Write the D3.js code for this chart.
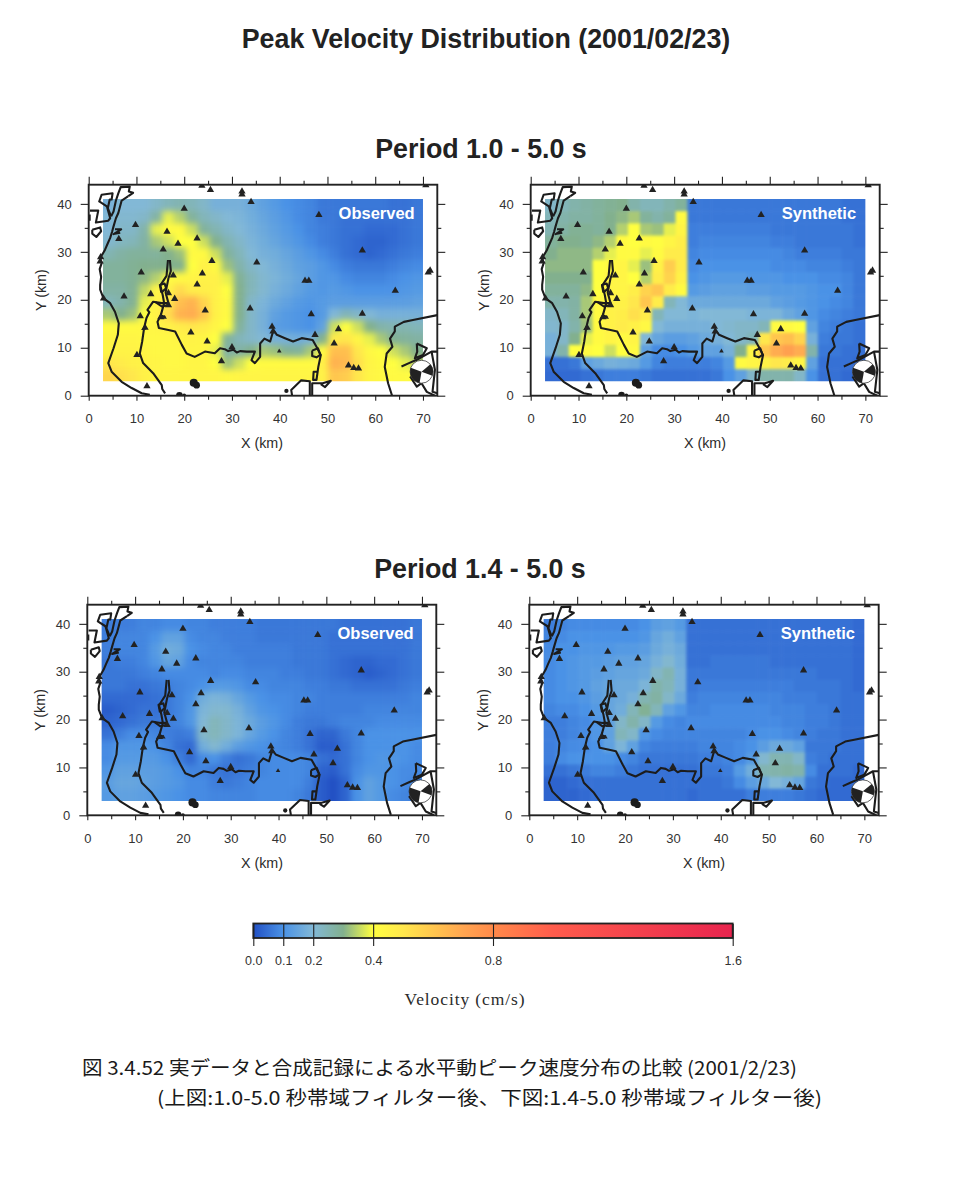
<!DOCTYPE html>
<html><head><meta charset="utf-8">
<style>
html,body{margin:0;padding:0;background:#fff}
svg{display:block}
text{font-family:"Liberation Sans",Arial,sans-serif;fill:#2b2b2b}
.tick text{font-size:13px;fill:#333;font-family:"Liberation Sans",Arial,sans-serif}
.tick line{stroke:#222;stroke-width:1.1}
</style>
<script src="https://cdn.jsdelivr.net/npm/d3@7"></script>
</head><body><svg id="c" width="962" height="1179"></svg>
<script>
// velocity cells (x 0.01 cm/s), rows north to south, columns west to east
const observed10 = [
[18,20,20,20,22,24,25,24,22,18,18,18,16,14,12,10,9,8,6,6,6,6,6,6,5,5,6],
[20,21,21,22,27,38,34,28,24,22,20,19,17,15,13,11,9,8,6,6,5,5,5,5,5,5,6],
[20,22,22,26,38,42,42,36,28,25,22,20,18,16,14,12,10,8,7,6,5,5,4,4,4,5,6],
[21,23,24,27,33,36,40,40,36,30,25,22,19,17,15,13,11,9,7,6,5,4,3,3,4,5,6],
[25,27,28,28,28,30,32,42,42,36,28,24,20,18,17,15,13,11,9,7,5,4,3,4,5,6,7],
[28,28,29,30,30,30,30,40,46,42,32,26,22,20,18,16,14,13,11,9,7,6,6,6,7,8,9],
[28,28,29,31,34,42,43,44,46,46,38,29,24,21,19,17,15,13,11,11,9,8,8,8,9,10,11],
[27,27,29,35,44,46,54,48,47,46,40,30,24,21,18,16,14,12,11,12,11,10,10,10,10,11,12],
[24,26,29,38,44,50,62,66,56,46,42,30,22,19,16,14,12,11,12,13,13,13,13,13,13,13,14],
[33,30,32,40,45,54,66,68,60,46,42,30,22,18,14,12,11,10,12,20,24,22,20,18,18,18,18],
[42,42,42,43,44,46,48,50,48,44,40,28,22,18,13,12,11,10,14,36,40,36,30,26,25,25,24],
[44,44,44,43,43,43,44,45,44,40,28,24,22,20,18,18,17,18,30,48,50,44,38,33,29,28,27],
[44,45,45,44,43,43,43,44,44,38,27,27,30,33,32,29,28,33,42,62,62,50,43,40,36,33,30],
[50,48,46,45,44,43,43,44,44,40,32,36,40,42,42,42,42,42,46,66,64,52,44,42,40,38,34],
[55,52,50,46,44,44,44,44,44,44,43,44,44,44,44,44,44,44,46,60,58,50,44,43,42,42,40]];
const synthetic10 = [
[22,24,26,27,28,29,30,26,24,24,26,28,6,6,6,6,6,6,6,6,6,6,6,6,6,5,5],
[24,26,27,27,28,30,31,33,28,26,28,42,6,6,6,6,6,6,6,6,6,6,6,6,6,5,5],
[25,27,29,29,28,30,34,40,33,32,38,44,7,7,7,7,7,7,7,6,6,6,6,6,6,6,5],
[28,30,30,29,31,34,42,40,42,41,44,47,7,8,8,8,8,8,8,7,7,6,6,6,6,6,5],
[30,31,31,31,34,38,42,42,38,42,48,48,8,9,9,9,9,9,9,9,8,7,7,7,7,6,6],
[31,31,31,31,40,42,44,38,32,46,58,48,9,10,10,10,10,10,10,9,9,9,8,8,8,7,6],
[30,30,30,30,40,44,44,40,34,48,56,46,10,11,12,12,12,11,11,11,10,10,10,9,9,8,6],
[28,28,28,31,40,44,44,47,56,60,48,42,12,13,14,14,14,13,13,12,12,12,11,10,10,8,6],
[26,26,27,33,42,46,46,50,60,48,24,20,16,16,16,16,16,16,16,14,13,12,11,10,9,8,6],
[22,24,27,33,42,46,47,52,48,24,20,20,19,20,20,20,20,19,19,19,16,14,11,9,8,7,6],
[21,22,26,32,42,46,48,46,43,20,18,18,18,18,20,21,22,22,24,42,42,40,14,8,7,6,5],
[18,22,30,38,42,44,42,44,20,15,13,13,14,16,18,20,22,24,50,60,62,56,18,7,6,6,5],
[18,26,40,42,40,36,40,42,14,9,9,10,12,14,14,18,30,44,60,68,72,68,26,6,6,5,5],
[5,5,6,14,16,18,17,16,12,8,7,7,7,7,8,12,42,44,46,50,48,44,14,5,5,5,4],
[4,4,4,5,6,7,7,7,6,5,5,5,5,5,6,10,14,22,26,26,26,22,10,5,5,4,4]];
const observed14 = [
[7,7,7,8,8,9,9,8,8,7,7,7,7,6,6,6,6,6,6,6,5,5,5,5,5,5,6],
[7,8,8,8,10,14,14,9,8,8,7,7,7,6,6,6,6,6,6,5,5,5,5,5,5,5,6],
[7,8,8,8,12,17,16,10,9,8,8,7,7,7,7,7,6,6,6,5,5,5,5,5,5,5,6],
[6,7,7,8,11,15,14,9,8,8,8,8,7,7,7,7,6,6,6,5,4,3,3,4,4,5,6],
[6,6,6,7,8,9,9,9,9,8,9,9,8,8,8,7,7,6,6,5,4,3,2,3,4,5,6],
[6,6,5,5,6,7,8,9,10,12,12,11,9,9,8,8,8,7,7,6,6,5,5,5,5,6,7],
[4,4,4,4,5,6,8,10,17,19,18,15,12,10,9,9,8,8,7,7,7,7,7,7,7,7,8],
[2,3,4,5,5,6,8,11,19,21,21,18,14,11,10,9,8,7,7,7,7,7,8,8,8,8,8],
[3,4,5,6,6,7,8,11,20,24,22,19,16,13,11,9,7,6,6,7,8,8,8,9,9,9,9],
[5,7,9,9,8,7,6,7,22,24,22,19,15,12,10,8,7,5,3,3,6,8,10,10,10,10,10],
[9,11,11,11,10,8,5,4,17,21,17,13,11,10,9,8,7,5,2,2,5,8,10,10,10,10,9],
[9,12,12,12,12,10,7,4,9,10,7,5,6,8,9,9,9,8,5,4,5,8,10,11,11,10,9],
[11,14,14,13,13,12,10,8,8,6,5,6,7,8,9,9,9,8,3,2,5,9,11,11,10,9,9],
[13,15,15,14,13,12,11,9,9,7,6,7,8,9,9,9,9,7,2,0,3,10,14,12,10,9,8],
[12,14,14,13,12,11,10,9,9,8,8,8,8,9,9,9,8,6,2,0,3,10,14,12,9,8,7]];
const synthetic14 = [
[7,8,9,9,9,9,9,9,10,13,14,12,5,5,5,5,5,5,5,5,5,5,5,5,5,5,4],
[8,9,10,10,10,10,10,10,11,15,17,14,5,5,5,5,5,5,5,5,5,5,5,5,5,5,4],
[9,10,10,11,11,11,12,12,13,16,18,16,5,5,5,5,5,5,5,5,5,5,5,5,5,5,4],
[9,10,11,12,12,13,14,14,15,18,21,17,5,5,6,6,6,6,6,5,5,5,5,5,5,5,4],
[9,10,11,12,13,14,15,15,16,22,25,18,6,6,6,6,6,6,6,6,6,6,6,5,5,5,4],
[9,10,11,12,14,15,16,16,19,26,24,18,6,7,7,7,7,7,7,7,7,6,6,6,6,5,4],
[9,10,10,11,13,15,16,18,25,27,22,16,7,8,8,8,8,8,8,8,7,7,7,6,6,5,5],
[8,9,9,10,12,15,17,24,29,24,14,11,8,8,9,9,9,9,9,8,8,8,7,7,6,5,5],
[7,7,8,9,11,14,22,26,22,12,9,8,9,9,9,9,9,9,9,9,8,8,7,7,6,5,5],
[7,7,8,9,11,14,24,22,11,9,8,8,8,8,8,8,8,9,10,10,9,8,7,6,6,5,5],
[7,8,9,9,10,14,19,14,8,7,7,7,7,8,8,8,9,10,13,16,16,14,6,6,6,5,5],
[7,9,10,10,10,10,9,8,6,6,6,6,6,7,7,8,9,12,21,25,25,22,7,6,5,5,5],
[5,5,6,7,8,8,7,6,5,5,5,5,5,6,6,7,12,17,25,26,27,26,9,5,5,5,4],
[3,3,4,5,5,5,5,5,5,5,5,5,5,5,5,6,9,13,16,20,18,15,6,5,4,4,4],
[3,3,3,4,5,5,5,5,5,5,5,5,4,5,5,5,5,7,7,7,7,6,5,4,4,4,3]];

const colorValues = [0,0.1,0.2,0.3,0.4,0.5,0.7,0.8,1.0,1.6];
const colorStops = ["#2250c4","#4a92e6","#82b8d6","#82b08e","#ffff40","#ffe74c","#ffa550","#ff8a4a","#ff5c4c","#e8244e"];
const legendTicks = [0,0.1,0.2,0.4,0.8,1.6];

// stations [x km, y km]
const stations = [[23.7,43.8],[25.5,42.9],[32.1,42.6],[32.1,42],[34,40.4],[20,39],[48.2,37.7],[9.8,35.6],[16.4,34.2],[22.7,32.8],[18.7,31.7],[6.3,32.7],[15.6,30.5],[57.3,30.3],[25.8,28.1],[35.2,27.8],[11,25.7],[23.8,25.5],[17.7,25.1],[45.3,24],[46.1,24],[22.7,23.2],[13,21.2],[64.2,21.9],[7.4,20.7],[18,20.2],[3.1,20.3],[33.8,18.2],[24.4,17.8],[46.6,17],[57.3,17.1],[10.8,16.6],[15.1,16.4],[38.4,14.4],[38.6,13.4],[11.8,14.2],[52.3,13.9],[21.4,13.2],[47.4,12.7],[24.8,11.3],[51.4,10.9],[30,10.1],[10.1,8.5],[27.8,7.2],[54.4,6.3],[55.5,5.8],[56.5,5.7],[12.2,2],[71.5,26.1],[71.1,25.7],[70.6,43.9],[2.4,28],[2.5,28.9],[16.7,21.4],[16.7,18.9]];
const stationsSmall = [[39.9,9.3],[15.9,16.3],[11.5,14]];

// coastlines [x km, y km]
const coastWest = [[8.3,41.6],[6.9,40.7],[6.2,38.1],[5.7,37],[5.2,35.3],[4.9,34.2],[4.5,32.9],[4,31.8],[3.4,30.4],[2.4,28.7],[2.7,27.6],[2.3,26.4],[2.6,24.8],[2.4,23.1],[2.4,22.1],[3.1,20.3],[4.5,19.3],[5.5,17.5],[6.3,15.1],[6.1,12.7],[5.2,9.9],[4.1,6.8],[4.8,5],[6.9,2.9],[9,1.6],[11.1,.5],[12.8,.2]];
const coastRiverB = [[17,28.3],[17.2,26],[16.7,24.5],[16.4,23],[16.1,21.5],[16.7,19.3],[15.3,19.3],[13.5,19.6],[12.3,17.9],[12.7,17.4],[12.1,16.2],[11.6,14.1],[11.2,11.3],[10.7,8.8],[11.4,6.8],[13.5,4.7],[15.3,2.2],[15.4,1.4],[16,.5]];
const coastBay = [[16.6,28.3],[16.3,25],[15,23],[15.5,21],[15.8,19.3],[15.1,16.8],[14.4,15.4],[14.7,14.1],[16.7,13.7],[18.1,13.4],[19.5,10.6],[20.5,8.8],[22.2,8.1],[24.35,9.2],[26.4,8.85],[27.5,9.9],[28.5,9.7],[29.2,9.3],[30.3,9.6],[31,9],[31.7,9.3],[33.1,9.2],[34.8,9.2],[34.1,7.4],[34.8,6.8],[35.9,8.1],[35.9,10.9],[36.8,11.9],[38,11.3],[38.7,13.7],[39.4,12.7],[41.1,12],[42.8,11.3],[44.6,12],[46.9,11.6],[47.7,10.2],[48.6,8.5],[48.1,6.1],[47.7,3.3],[47,3.3],[47.1,5],[48,5]];
const coastEast = [[73,16.8],[67.9,15.8],[66,15.4],[64.1,14.4],[64.1,13.4],[63.1,11.9],[63.6,10.2],[62.4,8.8],[62,6],[62.7,2.6],[63.5,.1]];
const coastOther = [
 [[42.6,0],[42.4,1.2],[44.5,3.2],[46.3,3],[46.3,0]],
 [[46.8,0],[46.8,2.6],[49,2.6],[50.7,3.1],[49.5,1.8],[48.6,2.4]],
 [[.27,38.6],[2,38.6],[1.5,36.1],[4.1,36.5],[4.5,37],[3.8,39.5],[2.2,40.5],[2.7,41.9],[5,42.2],[4.8,40.9],[4.4,40.9],[4,39.1],[4.7,37.4]],
 [[4.7,37.4],[5.2,38.4],[5.7,40.7],[6.2,42.2],[6.7,43.5],[8.6,43.6],[8.4,42.6],[9.3,42.3],[8.3,41.6]],
 [[.2,37.8],[.2,36.5]],
 [[.75,34.6],[2.4,35.1],[2.6,34.3],[1.6,33.1],[.75,33.8],[.75,34.6]],
 [[5.5,34.7],[6.8,34.7],[5.2,33.7],[6.6,34]],
 [[46.8,9.4],[48,9.9],[48.5,8.5],[47.7,8],[46.8,8.3],[46.8,9.4]],
 [[68.7,10.9],[70.8,9.9],[70,8.5],[68.3,7.8],[68.8,9.2],[68.7,10.9]],
 [[65.5,6.1],[67.3,6.9],[68.7,7.5],[71.8,9.2],[73,9.2]],
 [[71.8,9.2],[72.5,5.4],[72,.8],[73,.5]],
 [[67.3,4],[68.7,1.9],[69.7,2.6],[70.8,.8],[72.5,0]],
 [[15.2,21.5],[14.9,23.1],[15.9,23.4],[16.2,22.4],[15.2,21.5]],
 [[14,19.5],[15.3,18.6],[16.7,18.9]],
 [[15,16.8],[16,16.4]]
];
const islands = [[22,2.7,.85],[22.6,2.2,.7],[41.4,1,.45],[19,.1,.7],[20,.05,.4]];

const panels = [
 {grid:observed10,label:"Observed",x0:88.7,x1:437.3,top:184.7,bottom:395.7,blur:3.4,xl:262,yl:448,yx:46},
 {grid:synthetic10,label:"Synthetic",x0:530.7,x1:879.7,top:184.7,bottom:395.7,blur:1.4,xl:705,yl:448,yx:488.5},
 {grid:observed14,label:"Observed",x0:87.3,x1:436.3,top:604.7,bottom:815.3,blur:3.4,xl:262,yl:868,yx:45},
 {grid:synthetic14,label:"Synthetic",x0:529.3,x1:878.7,top:604.7,bottom:815.3,blur:1.8,xl:704,yl:868,yx:487.5}
];

const svg = d3.select("#c");
const defs = svg.append("defs");
const color = d3.scaleLinear().domain(colorValues).range(colorStops).clamp(true);
const fmtLine = (xs,ys)=>d3.line().x(d=>xs(d[0])).y(d=>ys(d[1]));

panels.forEach((p,pi)=>{
  const xs = d3.scaleLinear().domain([0,73]).range([p.x0,p.x1]);
  const ys = d3.scaleLinear().domain([0,44]).range([p.bottom,p.top]);
  const cols = d3.scaleBand().domain(d3.range(27)).range([xs(3),xs(70)]);
  const rows = d3.scaleBand().domain(d3.range(15)).range([ys(41),ys(3)]);
  const g = svg.append("g");

  defs.append("clipPath").attr("id","h"+pi).append("rect")
    .attr("x",xs(3)).attr("y",ys(41)).attr("width",xs(70)-xs(3)).attr("height",ys(3)-ys(41));
  defs.append("clipPath").attr("id","f"+pi).append("rect")
    .attr("x",xs(0)).attr("y",ys(44)).attr("width",xs(73)-xs(0)).attr("height",ys(0)-ys(44));
  const fl = defs.append("filter").attr("id","b"+pi).attr("filterUnits","userSpaceOnUse")
    .attr("x",xs(0)-20).attr("y",ys(44)-20).attr("width",xs(73)-xs(0)+40).attr("height",ys(0)-ys(44)+40)
    .attr("color-interpolation-filters","sRGB");
  fl.append("feGaussianBlur").attr("stdDeviation",p.blur);

  const cells = p.grid.flatMap((r,j)=>r.map((v,i)=>({v,i,j})));
  g.append("g").attr("clip-path",`url(#h${pi})`).append("g").attr("filter",`url(#b${pi})`)
   .selectAll("rect").data(cells).join("rect")
    .attr("x",d=>d.i===0?xs(0):cols(d.i))
    .attr("y",d=>d.j===0?ys(44):rows(d.j))
    .attr("width",d=>(d.i===26?xs(73):cols(d.i)+cols.bandwidth()+.5)-(d.i===0?xs(0):cols(d.i)))
    .attr("height",d=>(d.j===14?ys(0):rows(d.j)+rows.bandwidth()+.5)-(d.j===0?ys(44):rows(d.j)))
    .attr("fill",d=>color(d.v/100));

  const over = g.append("g").attr("clip-path",`url(#f${pi})`);
  const line = fmtLine(xs,ys);
  over.selectAll("path.coast").data([coastWest,coastRiverB,coastBay,coastEast,...coastOther]).join("path")
    .attr("class","coast").attr("d",line).attr("fill","none").attr("stroke","#1c1c1c")
    .attr("stroke-width",2.1).attr("stroke-linejoin","round");
  over.selectAll("circle").data(islands).join("circle")
    .attr("cx",d=>xs(d[0])).attr("cy",d=>ys(d[1])).attr("r",d=>xs(d[2])-xs(0)).attr("fill","#1c1c1c");
  const tri = d3.symbol().type(d3.symbolTriangle);
  over.selectAll("path.st").data(stations).join("path").attr("class","st")
    .attr("transform",d=>`translate(${xs(d[0])},${ys(d[1])})`).attr("d",tri.size(23)()).attr("fill","#222");
  over.selectAll("path.ss").data(stationsSmall).join("path").attr("class","ss")
    .attr("transform",d=>`translate(${xs(d[0])},${ys(d[1])})`).attr("d",tri.size(9)()).attr("fill","#222");

  // focal mechanism
  const fm = over.append("g").attr("transform",`translate(${xs(69.7)},${ys(5)})`);
  const rk = xs(2.4)-xs(0);
  fm.append("circle").attr("r",rk).attr("fill","#fff").attr("stroke","#222").attr("stroke-width",.7);
  const arc = d3.arc().innerRadius(0).outerRadius(rk);
  [[190,290],[50,110]].forEach(a=>fm.append("path")
     .attr("d",arc({startAngle:a[0]*Math.PI/180,endAngle:a[1]*Math.PI/180})).attr("fill","#222"));

  g.append("rect").attr("x",xs(0)).attr("y",ys(44)).attr("width",xs(73)-xs(0)).attr("height",ys(0)-ys(44))
    .attr("fill","none").attr("stroke","#222").attr("stroke-width",1.9);

  const majX=d3.range(0,71,10), minX=d3.range(5,71,10), majY=d3.range(0,41,10), minY=d3.range(5,41,10);
  const ax=(a,sel,vals,size,labels,pad)=>{
    const gg=g.append("g").attr("transform",sel).call(a.tickValues(vals).tickSize(size).tickPadding(pad||3).tickFormat(labels?d3.format("d"):""));
    gg.select(".domain").remove();
  };
  ax(d3.axisBottom(xs),`translate(0,${ys(0)})`,majX,5,true,13);
  ax(d3.axisBottom(xs),`translate(0,${ys(0)})`,minX,4,false);
  ax(d3.axisTop(xs),`translate(0,${ys(44)})`,majX,8,false);
  ax(d3.axisTop(xs),`translate(0,${ys(44)})`,minX,4,false);
  ax(d3.axisLeft(ys),`translate(${xs(0)},0)`,majY,8,true,9);
  ax(d3.axisLeft(ys),`translate(${xs(0)},0)`,minY,4,false);
  ax(d3.axisRight(ys),`translate(${xs(73)},0)`,majY,8,false);
  ax(d3.axisRight(ys),`translate(${xs(73)},0)`,minY,4,false);

  g.append("text").attr("x",p.xl).attr("y",p.yl).attr("text-anchor","middle").attr("font-size",14.3).text("X (km)");
  g.append("text").attr("transform",`translate(${p.yx},${(p.top+p.bottom)/2}) rotate(-90)`).attr("text-anchor","middle").attr("font-size",14.3).text("Y (km)");
  g.append("text").attr("x",xs(60.3)).attr("y",ys(36.9)).attr("text-anchor","middle").attr("font-size",16.5)
    .attr("font-weight","bold").style("fill","#fff").text(p.label);
});

// titles
const title=(t,x,y,s)=>svg.append("text").attr("x",x).attr("y",y).attr("text-anchor","middle").attr("font-size",s).attr("font-weight","bold").style("fill","#222").text(t);
title("Peak Velocity Distribution (2001/02/23)",486,48,26.8);
title("Period 1.0 - 5.0 s",481,158,26.8);
title("Period 1.4 - 5.0 s",480,578,26.8);

// colour bar
const bar = d3.scaleLinear().domain([0,1.6]).range([253.3,732.7]);
const grad = defs.append("linearGradient").attr("id","bar");
colorValues.forEach((v,i)=>grad.append("stop").attr("offset",v/1.6).attr("stop-color",colorStops[i]));
svg.append("rect").attr("x",bar(0)).attr("y",923.5).attr("width",bar(1.6)-bar(0)).attr("height",14.5)
  .attr("fill","url(#bar)").attr("stroke","#222").attr("stroke-width",1.8);
const lg = svg.append("g").attr("transform","translate(0,938)").call(d3.axisBottom(bar).tickValues(legendTicks).tickFormat(d3.format(".1f")).tickSize(8).tickPadding(10));
lg.select(".domain").remove();
lg.selectAll("text").style("font-size","12.5px");
const lg2 = svg.append("g").attr("transform","translate(0,938)").call(d3.axisTop(bar).tickValues(legendTicks).tickFormat("").tickSize(14));
lg2.select(".domain").remove();
svg.append("text").attr("x",465).attr("y",1005).attr("text-anchor","middle").attr("font-size",17.5)
  .attr("letter-spacing",.9).style("font-family","'Liberation Serif',serif").text("Velocity (cm/s)");

// caption
const caption=(t,x,y,w)=>svg.append("text").attr("x",x).attr("y",y).attr("font-size",19).attr("textLength",w).attr("lengthAdjust","spacingAndGlyphs")
  .style("font-family","'Noto Sans CJK JP',sans-serif").style("fill","#1a1a1a").text(t);
caption("図 3.4.52 実データと合成記録による水平動ピーク速度分布の比較 (2001/2/23)",82,1075,715);
caption("(上図:1.0-5.0 秒帯域フィルター後、下図:1.4-5.0 秒帯域フィルター後)",157,1105,665);
</script></body></html>
